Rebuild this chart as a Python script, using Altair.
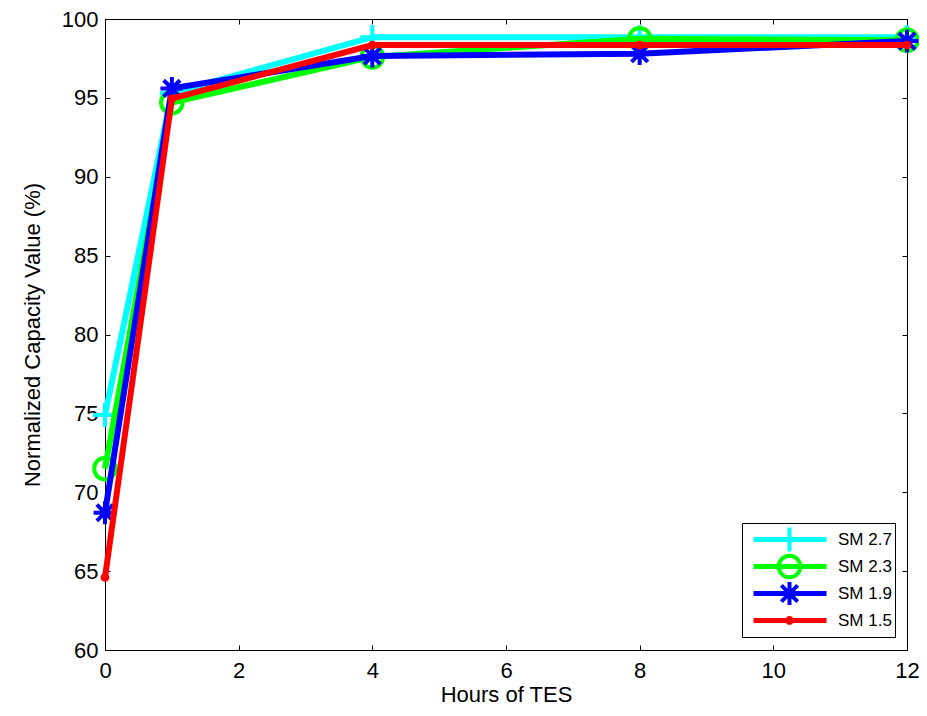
import altair as alt
import pandas as pd

hours = [0, 1, 4, 8, 12]
series_names = ["SM 2.7", "SM 2.3", "SM 1.9", "SM 1.5"]
sm27 = [74.9, 95.3, 98.85, 98.85, 98.85]
sm23 = [71.5, 94.7, 97.6, 98.75, 98.65]
sm19 = [68.7, 95.6, 97.65, 97.8, 98.6]
sm15 = [64.6, 94.95, 98.35, 98.35, 98.35]
x_ticks = [0, 2, 4, 6, 8, 10, 12]
y_ticks = [60, 65, 70, 75, 80, 85, 90, 95, 100]

colors = ["#00FFFF", "#00FF00", "#0000FF", "#FF0000"]
cross = "M-1,0L1,0M0,-1L0,1"
ring = "M-0.9,0A0.9,0.9 0 1,0 0.9,0A0.9,0.9 0 1,0 -0.9,0Z"
asterisk = "M-0.95,0L0.95,0M0,-0.95L0,0.95M-0.68,-0.68L0.68,0.68M-0.68,0.68L0.68,-0.68"
dot = "M-0.2,0A0.2,0.2 0 1,0 0.2,0A0.2,0.2 0 1,0 -0.2,0Z"
shapes = [cross, ring, asterisk, dot]

rows = []
for name, vals in zip(series_names, [sm27, sm23, sm19, sm15]):
    for h, v in zip(hours, vals):
        rows.append({"hours": h, "value": v, "series": name})
df = pd.DataFrame(rows)

FONT = "Liberation Sans"
W, H = 802, 631
MSIZE = 576

xscale = alt.Scale(domain=[0, 12], nice=False, zero=False)
yscale = alt.Scale(domain=[60, 100], nice=False, zero=False)

x_main = alt.X("hours:Q", scale=xscale, axis=alt.Axis(
    orient="bottom", values=x_ticks, offset=-5, tickSize=5, tickColor="black",
    tickWidth=1, domain=False, grid=False, labelPadding=10, labelFlush=False,
    labelFont=FONT, labelFontSize=22, labelColor="black", title="Hours of TES",
    titleFont=FONT, titleFontSize=22, titleFontWeight="normal", titleColor="black",
    titlePadding=3))
y_main = alt.Y("value:Q", scale=yscale, axis=alt.Axis(
    orient="left", values=y_ticks, offset=-5, tickSize=5, tickColor="black",
    tickWidth=1, domain=False, grid=False, labelPadding=7, labelFlush=False,
    labelFont=FONT, labelFontSize=22, labelColor="black",
    title="Normalized Capacity Value (%)", titleFont=FONT, titleFontSize=22,
    titleFontWeight="normal", titleColor="black", titlePadding=17))

color_scale = alt.Scale(domain=series_names, range=colors)
shape_scale = alt.Scale(domain=series_names, range=shapes)

LX, LY = 637, 504
line_legend = alt.Legend(
    title=None, orient="none", legendX=LX, legendY=LY, symbolType="stroke",
    symbolSize=5329, symbolStrokeWidth=5, clipHeight=27, rowPadding=0, padding=3,
    symbolOffset=6, labelOffset=9, labelFont=FONT, labelFontSize=17,
    labelColor="black", strokeColor="black")
pt_legend = alt.Legend(
    title=None, orient="none", legendX=LX, legendY=LY, clipHeight=27,
    rowPadding=0, padding=3, symbolOffset=30.5, labelOffset=9, symbolStrokeWidth=4,
    symbolSize=MSIZE, labelFont=FONT, labelFontSize=17, labelExpr="''")

base = alt.Chart(df)
layers = []
for name in series_names:
    sub = base.transform_filter(alt.datum.series == name)
    line = sub.mark_line(strokeWidth=6).encode(
        x=x_main, y=y_main,
        stroke=alt.Stroke("series:N", sort=series_names,
                          scale=alt.Scale(range=colors), legend=line_legend))
    pts = sub.mark_point(filled=False, strokeWidth=4, opacity=1, size=MSIZE).encode(
        x=x_main, y=y_main,
        color=alt.Color("series:N", scale=color_scale, legend=pt_legend),
        shape=alt.Shape("series:N", scale=shape_scale, legend=pt_legend))
    layers += [line, pts]

dummy = base.mark_point(opacity=0).encode(
    x=alt.X("hours:Q", scale=xscale, axis=alt.Axis(
        orient="top", values=x_ticks, offset=-5, tickSize=5, tickColor="black",
        labels=False, domain=False, grid=False, title=None)),
    y=alt.Y("value:Q", scale=yscale, axis=alt.Axis(
        orient="right", values=y_ticks, offset=-5, tickSize=5, tickColor="black",
        labels=False, domain=False, grid=False, title=None)))

chart = alt.layer(alt.layer(*layers), dummy).resolve_axis(
    x="independent", y="independent"
).properties(
    width=W, height=H,
    autosize=alt.AutoSizeParams(type="none"),
    padding={"left": 97, "top": 11, "right": 12, "bottom": 58},
    background="white",
).configure_view(stroke="black", strokeWidth=1)

chart.save("out.html", embed_options={"renderer": "svg", "actions": False})
